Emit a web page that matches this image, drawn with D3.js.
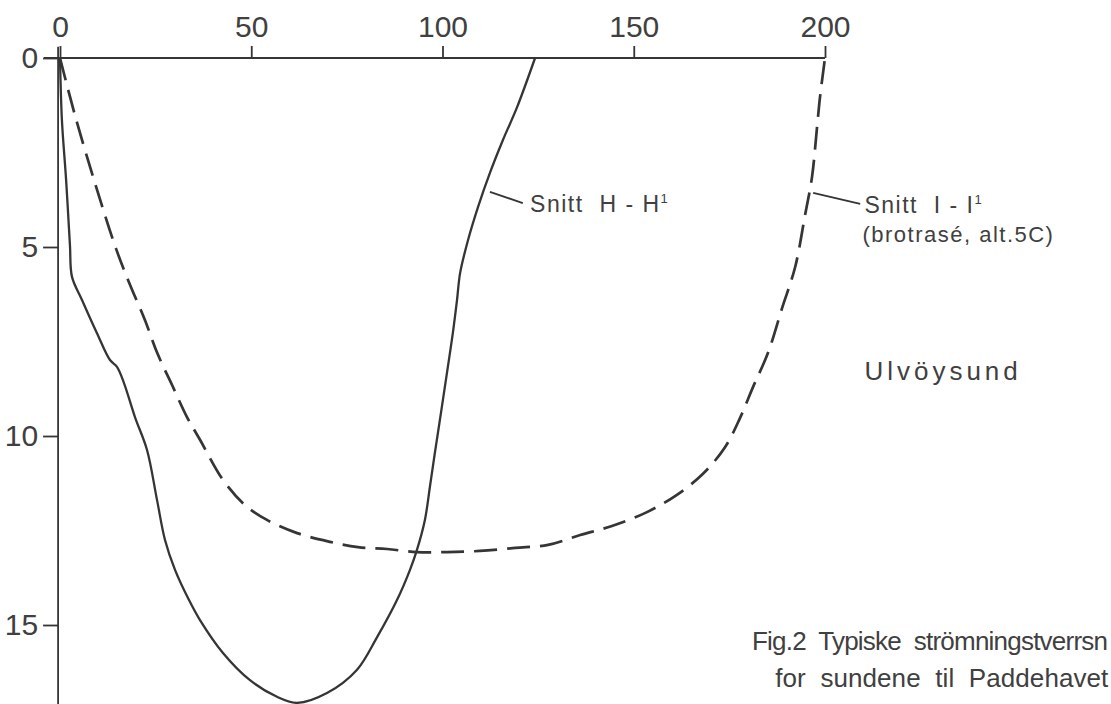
<!DOCTYPE html>
<html><head><meta charset="utf-8">
<script src="https://cdn.jsdelivr.net/npm/d3@7"></script>
<style>
body{margin:0;background:#fff}
text{font-family:"Liberation Sans","DejaVu Sans",sans-serif;fill:#404040;white-space:pre}
</style>
</head><body>
<svg id="c" width="1111" height="704"></svg>
<script>
// tick values
const xTicks = [0, 50, 100, 150, 200];
const yTicks = [0, 5, 10, 15];

// Snitt H-H' (solid): x (width, m) and depth (m)
const snittH_x = [0, 0.5, 1.6, 2.6, 3.14, 5.75, 9.67, 13.07, 14.9, 16.73, 19.6, 22.75, 25.36, 27.45, 30.07, 33.73, 36.6, 42.61, 49.67, 56.73, 61.96, 69.8, 77.6, 82.9, 88.1, 91.5, 93.3, 95.4, 96.7, 98.0, 98.8, 100.1, 101.4, 102.7, 103.8, 104.6, 106.7, 109.3, 112.4, 115.8, 119.5, 124.2];
const snittH_d = [0, 1.64, 3.23, 4.95, 5.79, 6.4, 7.28, 7.99, 8.17, 8.6, 9.5, 10.37, 11.69, 12.75, 13.54, 14.34, 14.87, 15.74, 16.46, 16.9, 17.06, 16.8, 16.19, 15.32, 14.34, 13.54, 13.02, 12.22, 11.35, 10.45, 9.92, 9.05, 8.17, 7.28, 6.4, 5.69, 4.81, 3.94, 3.04, 2.17, 1.30, 0];

// Snitt I-I' (dashed)
const snittI_x = [0, 3.9, 9.15, 14.6, 18.3, 22.2, 25.4, 29.3, 33.2, 36.6, 42.6, 48.4, 54.1, 62.0, 70.6, 77.9, 85.5, 93.3, 101.2, 109.8, 119.0, 127.6, 136.0, 144.3, 152.9, 160.8, 168.1, 173.9, 177.8, 181.2, 185.1, 188.8, 192.2, 194.8, 196.6, 197.9, 198.7, 200];
const snittI_d = [0, 1.51, 3.31, 5.03, 6.0, 6.93, 7.80, 8.65, 9.50, 10.1, 11.16, 11.83, 12.22, 12.57, 12.80, 12.94, 12.99, 13.07, 13.07, 13.04, 12.96, 12.88, 12.62, 12.38, 12.04, 11.59, 11.0, 10.29, 9.52, 8.70, 7.80, 6.61, 5.53, 4.15, 3.15, 1.85, 1.03, 0];

// annotations (data units)
const labelH = {text: "Snitt  H - H", sup: "1", lx1: 112.4, ly1: 3.54, lx2: 121.0, ly2: 3.84, tx: 122.9, ty: 4.07};
const labelI = {text: "Snitt  I - I", sup: "1", line2: "(brotrasé, alt.5C)", lx1: 196.9, ly1: 3.57, lx2: 209.2, ly2: 3.86, tx: 210.3, ty: 4.1, ty2: 4.88};
const placeName = {text: "Ulvöysund", tx: 210.3, ty: 8.52};
const title = ["Fig.2  Typiske  strömningstverrsn", "for  sundene  til  Paddehavet"];
const titlePos = {x1: 180.9, y1: 15.66, x2: 187.0, y2: 16.64, w1: 356, w2: 333};

const svg = d3.select("#c");
const x = d3.scaleLinear().domain([0, 200]).range([60, 825]);
const y = d3.scaleLinear().domain([0, 15]).range([58, 625]);
const ink = "#353535";

// axis lines
svg.append("line").attr("x1", x(-4.2)).attr("x2", x(200)).attr("y1", y(0)).attr("y2", y(0))
  .attr("stroke", ink).attr("stroke-width", 1.8);
svg.append("line").attr("x1", x(-0.5)).attr("x2", x(-0.5)).attr("y1", y(-0.3)).attr("y2", y(17.2))
  .attr("stroke", ink).attr("stroke-width", 1.8);

const xAxis = svg.append("g").attr("transform", `translate(0,${y(0)})`)
  .call(d3.axisTop(x).tickValues(xTicks).tickSize(12).tickSizeOuter(0).tickPadding(9).tickFormat(d3.format("d")));
const yAxis = svg.append("g").attr("transform", `translate(${x(-0.5)},0)`)
  .call(d3.axisLeft(y).tickValues(yTicks).tickSize(15).tickSizeOuter(0).tickPadding(5).tickFormat(d3.format("d")));
[xAxis, yAxis].forEach(g => {
  g.select(".domain").remove();
  g.selectAll(".tick line").attr("stroke", ink).attr("stroke-width", 1.8);
  g.selectAll(".tick text").attr("fill", "#404040").style("font-size", "30px")
    .style("font-family", "'Liberation Sans', sans-serif");
});

const line = d3.line().curve(d3.curveCatmullRom.alpha(0.5));

svg.append("path")
  .attr("d", line(snittH_x.map((v, i) => [x(v), y(snittH_d[i])])))
  .attr("fill", "none").attr("stroke", ink).attr("stroke-width", 2.3);

svg.append("path")
  .attr("d", line(snittI_x.map((v, i) => [x(v), y(snittI_d[i])])))
  .attr("fill", "none").attr("stroke", ink).attr("stroke-width", 2.7)
  .attr("stroke-dasharray", "23,10");

// leader lines + labels
[labelH, labelI].forEach(l => {
  svg.append("line").attr("x1", x(l.lx1)).attr("y1", y(l.ly1)).attr("x2", x(l.lx2)).attr("y2", y(l.ly2))
    .attr("stroke", ink).attr("stroke-width", 1.8);
  const t = svg.append("text").attr("x", x(l.tx)).attr("y", y(l.ty))
    .style("font-size", "23px").style("letter-spacing", "1.5px");
  t.append("tspan").text(l.text);
  t.append("tspan").attr("dy", -9).style("font-size", "13px").text(l.sup);
});
svg.append("text").attr("x", x(labelI.tx) - 2).attr("y", y(labelI.ty2))
  .style("font-size", "22px").style("letter-spacing", "1.5px").text(labelI.line2);

svg.append("text").attr("x", x(placeName.tx)).attr("y", y(placeName.ty))
  .style("font-size", "26px").style("letter-spacing", "4px").text(placeName.text);

svg.append("text").attr("x", x(titlePos.x1)).attr("y", y(titlePos.y1))
  .attr("textLength", titlePos.w1).attr("lengthAdjust", "spacing")
  .style("font-size", "26px").text(title[0]);
svg.append("text").attr("x", x(titlePos.x2)).attr("y", y(titlePos.y2))
  .attr("textLength", titlePos.w2).attr("lengthAdjust", "spacing")
  .style("font-size", "26px").text(title[1]);
</script>
</body></html>
